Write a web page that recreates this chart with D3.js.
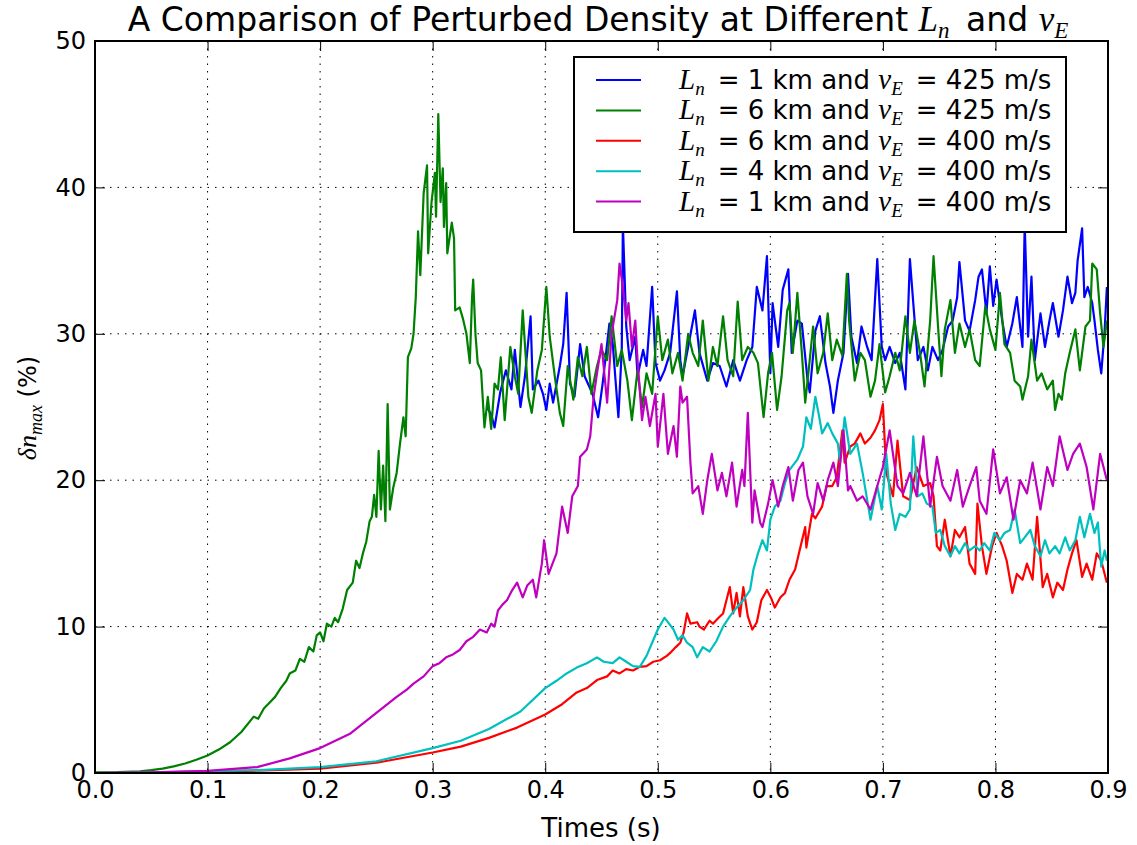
<!DOCTYPE html>
<html><head><meta charset="utf-8">
<script src="https://cdn.jsdelivr.net/npm/d3@7"></script>
<style>
html,body{margin:0;padding:0;background:#fff;}
svg{display:block;}
.tick text{font-family:"DejaVu Sans",sans-serif;font-size:24px;fill:#000;}
</style></head>
<body>
<svg id="chart" width="1137" height="845"></svg>
<script>
// ---------------- data (time in s, perturbed density in %) ----------------
const xTicks = [0.0,0.1,0.2,0.3,0.4,0.5,0.6,0.7,0.8,0.9];
const yTicks = [0,10,20,30,40,50];
const seriesNames = [
  {n:"1", v:"425"},
  {n:"6", v:"425"},
  {n:"6", v:"400"},
  {n:"4", v:"400"},
  {n:"1", v:"400"}
];
const seriesColors = ["#0000ff","#008000","#ff0000","#00bfbf","#bf00bf"];

const blue = [[0.348,25.0],[0.352,24.5],[0.355,23.6],[0.36,26.0],[0.365,27.5],[0.37,26.2],[0.373,28.9],[0.378,25.0],[0.382,27.1],[0.387,31.2],[0.389,26.2],[0.394,26.8],[0.398,25.9],[0.401,24.8],[0.404,26.6],[0.407,25.3],[0.413,27.8],[0.416,29.3],[0.419,32.8],[0.422,26.6],[0.426,25.7],[0.431,29.3],[0.435,27.1],[0.442,25.9],[0.447,24.3],[0.451,26.6],[0.457,30.7],[0.46,29.3],[0.465,24.3],[0.468,28.9],[0.469,37.5],[0.472,30.5],[0.475,28.2],[0.48,29.8],[0.482,27.1],[0.487,28.9],[0.49,27.8],[0.495,33.2],[0.498,28.0],[0.502,26.8],[0.506,27.5],[0.511,28.7],[0.517,32.9],[0.52,28.2],[0.522,27.1],[0.527,29.1],[0.533,31.6],[0.537,28.7],[0.544,26.8],[0.549,28.0],[0.555,27.8],[0.561,26.4],[0.567,28.2],[0.573,26.8],[0.579,28.2],[0.584,29.1],[0.588,33.2],[0.593,31.6],[0.597,35.3],[0.6,27.3],[0.602,32.1],[0.607,29.1],[0.611,33.0],[0.616,34.4],[0.619,28.7],[0.624,30.9],[0.628,30.7],[0.633,26.9],[0.635,26.0],[0.64,30.2],[0.644,31.2],[0.649,28.0],[0.653,26.4],[0.656,24.6],[0.66,26.8],[0.665,28.7],[0.669,34.1],[0.672,29.8],[0.677,28.0],[0.681,30.5],[0.686,29.1],[0.69,28.2],[0.695,35.1],[0.699,29.1],[0.702,28.2],[0.706,29.1],[0.711,28.0],[0.715,28.7],[0.72,26.2],[0.724,35.1],[0.727,32.1],[0.731,28.2],[0.736,29.1],[0.74,27.5],[0.744,29.1],[0.749,28.2],[0.753,28.9],[0.758,30.5],[0.762,30.9],[0.766,32.5],[0.768,34.9],[0.773,30.9],[0.777,30.2],[0.782,32.3],[0.785,33.9],[0.788,34.4],[0.792,31.4],[0.795,34.6],[0.798,31.9],[0.801,33.7],[0.806,30.9],[0.81,29.1],[0.815,30.7],[0.819,32.5],[0.824,29.1],[0.826,37.5],[0.829,29.8],[0.832,33.9],[0.835,28.2],[0.84,31.4],[0.844,29.1],[0.848,30.9],[0.851,32.1],[0.856,29.8],[0.86,31.6],[0.864,33.9],[0.868,32.1],[0.871,32.8],[0.873,35.0],[0.877,37.2],[0.879,32.5],[0.882,33.2],[0.886,32.1],[0.888,30.9],[0.891,28.9],[0.894,27.3],[0.897,30.2],[0.899,33.2]];

const green = [[0,0.05],[0.02,0.06],[0.04,0.12],[0.05,0.2],[0.06,0.3],[0.07,0.45],[0.08,0.65],[0.09,0.9],[0.1,1.2],[0.11,1.6],[0.12,2.1],[0.13,2.8],[0.141,3.85],[0.145,3.7],[0.15,4.4],[0.155,4.8],[0.16,5.2],[0.165,5.8],[0.17,6.3],[0.173,6.8],[0.178,7.0],[0.182,7.8],[0.186,7.6],[0.19,8.6],[0.194,8.3],[0.197,9.4],[0.2,9.6],[0.203,9.0],[0.206,10.2],[0.21,10.0],[0.213,10.6],[0.216,10.3],[0.22,11.2],[0.224,12.5],[0.229,13.0],[0.232,14.5],[0.235,14.0],[0.238,15.0],[0.241,15.8],[0.244,17.2],[0.246,17.5],[0.248,19.0],[0.25,17.5],[0.252,22.0],[0.254,18.0],[0.256,21.0],[0.258,17.2],[0.26,25.2],[0.262,18.0],[0.265,19.5],[0.268,20.5],[0.271,22.5],[0.274,24.3],[0.276,23.0],[0.278,28.4],[0.281,29.0],[0.283,30.0],[0.285,32.5],[0.287,37.0],[0.289,34.0],[0.292,39.6],[0.295,41.5],[0.296,35.5],[0.299,39.0],[0.302,41.0],[0.303,38.0],[0.305,45.0],[0.307,39.0],[0.309,41.3],[0.31,37.3],[0.312,40.3],[0.313,35.5],[0.317,37.6],[0.319,36.5],[0.32,31.6],[0.324,31.8],[0.327,31.0],[0.33,30.0],[0.333,28.0],[0.335,32.5],[0.336,33.7],[0.338,30.0],[0.34,28.0],[0.343,27.5],[0.346,23.6],[0.349,25.7],[0.352,23.5],[0.355,26.6],[0.358,26.2],[0.3605,28.4],[0.364,24.1],[0.369,29.1],[0.373,27.1],[0.376,25.9],[0.38,31.6],[0.385,25.7],[0.388,24.6],[0.393,27.5],[0.397,28.9],[0.401,33.2],[0.404,29.8],[0.409,26.8],[0.413,24.6],[0.416,23.7],[0.42,27.8],[0.425,25.5],[0.429,28.4],[0.433,27.1],[0.437,29.1],[0.441,25.9],[0.446,27.8],[0.45,28.9],[0.455,28.2],[0.459,31.2],[0.464,27.8],[0.468,28.9],[0.473,26.8],[0.477,24.1],[0.482,27.5],[0.486,25.0],[0.49,27.3],[0.495,25.9],[0.5,31.2],[0.504,28.2],[0.509,29.6],[0.513,27.3],[0.518,28.7],[0.522,26.8],[0.527,30.0],[0.531,28.7],[0.536,27.8],[0.54,30.9],[0.545,26.8],[0.549,29.1],[0.553,27.8],[0.558,31.2],[0.562,28.2],[0.567,27.1],[0.571,32.2],[0.575,28.2],[0.58,29.1],[0.585,28.7],[0.589,28.0],[0.594,24.3],[0.598,27.3],[0.6015,28.7],[0.606,24.8],[0.61,27.1],[0.615,31.6],[0.617,32.1],[0.62,28.7],[0.624,32.8],[0.628,28.7],[0.631,25.3],[0.635,28.2],[0.638,30.5],[0.642,27.3],[0.647,28.7],[0.651,31.4],[0.655,28.2],[0.659,29.6],[0.664,28.5],[0.668,34.1],[0.67,30.9],[0.675,26.8],[0.68,28.7],[0.684,28.2],[0.689,25.7],[0.693,26.8],[0.697,29.3],[0.702,26.0],[0.706,27.1],[0.711,28.7],[0.715,27.5],[0.72,31.2],[0.724,28.7],[0.728,30.9],[0.733,28.7],[0.737,26.4],[0.742,30.9],[0.745,35.3],[0.749,30.5],[0.752,27.1],[0.755,30.3],[0.76,32.3],[0.764,28.7],[0.768,30.7],[0.773,29.1],[0.777,30.3],[0.782,28.2],[0.786,27.8],[0.791,31.9],[0.795,30.3],[0.8,28.9],[0.804,32.8],[0.808,29.3],[0.813,28.7],[0.817,26.8],[0.822,26.4],[0.824,25.5],[0.829,27.1],[0.832,29.6],[0.837,26.8],[0.841,27.3],[0.846,26.2],[0.851,26.8],[0.853,24.8],[0.856,25.9],[0.859,25.5],[0.862,27.3],[0.866,28.7],[0.871,30.3],[0.875,27.5],[0.88,30.5],[0.884,30.9],[0.886,34.8],[0.89,34.4],[0.893,31.4],[0.896,29.1],[0.899,30.9]];

const red = [[0,0],[0.05,0.03],[0.1,0.1],[0.15,0.18],[0.2,0.3],[0.25,0.7],[0.3,1.4],[0.325,1.8],[0.35,2.4],[0.375,3.1],[0.4,4.0],[0.415,4.7],[0.428,5.5],[0.437,5.8],[0.446,6.35],[0.455,6.6],[0.46,7.0],[0.466,6.8],[0.472,7.1],[0.478,7.0],[0.484,7.25],[0.49,7.3],[0.496,7.6],[0.502,7.7],[0.508,8.0],[0.511,8.2],[0.516,8.6],[0.52,8.9],[0.523,9.6],[0.526,10.9],[0.529,10.2],[0.535,10.3],[0.537,10.0],[0.541,9.8],[0.546,10.4],[0.549,10.2],[0.554,10.6],[0.558,10.9],[0.564,12.7],[0.567,10.9],[0.57,12.3],[0.573,10.7],[0.576,12.7],[0.58,10.7],[0.584,9.8],[0.588,10.3],[0.592,11.8],[0.597,12.5],[0.601,11.9],[0.604,11.3],[0.609,12.0],[0.613,12.3],[0.617,13.2],[0.622,13.9],[0.626,15.2],[0.631,16.8],[0.632,15.4],[0.637,17.7],[0.64,17.4],[0.646,18.2],[0.65,19.6],[0.655,19.6],[0.659,20.2],[0.664,23.4],[0.666,21.2],[0.671,22.3],[0.675,22.5],[0.68,23.2],[0.684,22.5],[0.689,22.9],[0.693,23.4],[0.697,24.1],[0.7,25.2],[0.703,20.5],[0.709,18.9],[0.713,22.7],[0.718,18.9],[0.724,18.65],[0.73,20.9],[0.736,19.6],[0.742,19.8],[0.745,18.9],[0.748,15.5],[0.751,15.2],[0.755,17.3],[0.76,14.8],[0.764,16.6],[0.768,16.1],[0.773,16.8],[0.777,14.3],[0.782,13.6],[0.784,18.4],[0.788,15.5],[0.792,13.6],[0.797,15.5],[0.801,16.4],[0.806,15.5],[0.81,14.5],[0.815,12.3],[0.819,13.6],[0.824,13.2],[0.828,14.3],[0.833,13.2],[0.837,17.5],[0.842,12.7],[0.846,13.6],[0.851,12.0],[0.855,13.0],[0.86,12.5],[0.864,13.9],[0.868,15.0],[0.872,15.9],[0.877,13.4],[0.881,14.3],[0.886,13.2],[0.89,15.0],[0.894,14.5],[0.899,13.0]];

const cyan = [[0,0],[0.05,0.04],[0.1,0.12],[0.15,0.22],[0.2,0.4],[0.25,0.8],[0.3,1.7],[0.325,2.2],[0.35,3.0],[0.378,4.2],[0.4,5.8],[0.41,6.3],[0.419,6.8],[0.428,7.2],[0.437,7.5],[0.446,7.9],[0.452,7.6],[0.46,7.5],[0.466,7.9],[0.472,7.6],[0.478,7.3],[0.484,7.25],[0.49,8.0],[0.495,8.9],[0.5,9.8],[0.506,10.6],[0.51,10.2],[0.514,9.8],[0.518,9.1],[0.522,9.4],[0.526,8.9],[0.531,8.6],[0.535,7.9],[0.54,8.6],[0.546,8.3],[0.552,9.0],[0.558,10.0],[0.564,10.7],[0.57,11.3],[0.576,11.8],[0.582,12.5],[0.585,13.9],[0.589,15.0],[0.593,15.9],[0.597,15.2],[0.6,17.3],[0.604,18.2],[0.609,18.6],[0.613,19.8],[0.617,20.7],[0.624,21.4],[0.629,22.3],[0.632,24.3],[0.636,23.5],[0.64,25.7],[0.643,24.5],[0.646,23.2],[0.651,23.9],[0.655,23.2],[0.66,22.5],[0.662,21.2],[0.666,24.3],[0.671,21.8],[0.677,22.5],[0.682,20.5],[0.689,17.3],[0.695,19.6],[0.699,18.0],[0.703,21.8],[0.707,18.4],[0.711,16.6],[0.715,17.7],[0.72,17.5],[0.724,18.0],[0.727,23.0],[0.731,18.9],[0.735,19.1],[0.739,18.4],[0.744,18.2],[0.747,16.4],[0.751,16.6],[0.755,15.5],[0.76,14.8],[0.764,15.5],[0.768,15.0],[0.773,15.7],[0.777,15.2],[0.782,15.5],[0.786,15.2],[0.79,15.7],[0.795,15.2],[0.799,16.4],[0.804,15.9],[0.808,16.4],[0.813,16.6],[0.817,18.0],[0.822,15.7],[0.826,16.1],[0.831,16.6],[0.835,15.5],[0.84,14.8],[0.844,15.9],[0.848,15.0],[0.853,15.5],[0.857,15.0],[0.862,16.1],[0.866,15.2],[0.871,15.9],[0.875,17.5],[0.879,16.1],[0.884,17.7],[0.888,16.4],[0.891,17.1],[0.894,14.1],[0.897,15.2],[0.899,14.5]];

const magenta = [[0,0],[0.05,0.05],[0.1,0.15],[0.144,0.4],[0.173,1.0],[0.2,1.7],[0.227,2.7],[0.25,4.1],[0.268,5.2],[0.277,5.7],[0.283,6.1],[0.292,6.6],[0.3,7.3],[0.306,7.5],[0.312,7.9],[0.318,8.1],[0.324,8.4],[0.33,9.0],[0.336,9.3],[0.342,9.8],[0.348,9.6],[0.352,10.2],[0.355,10.0],[0.358,11.1],[0.362,11.5],[0.366,11.8],[0.37,12.4],[0.375,13.0],[0.38,12.0],[0.384,12.8],[0.389,13.2],[0.392,12.0],[0.395,13.4],[0.397,14.3],[0.399,15.9],[0.403,13.6],[0.41,15.0],[0.415,18.2],[0.42,16.4],[0.424,18.9],[0.429,19.6],[0.431,21.6],[0.437,22.1],[0.44,23.0],[0.443,25.7],[0.446,27.3],[0.45,29.3],[0.455,25.3],[0.459,30.0],[0.464,32.3],[0.466,34.8],[0.469,33.2],[0.472,30.9],[0.474,32.1],[0.477,29.1],[0.48,30.9],[0.482,28.2],[0.486,24.1],[0.489,25.7],[0.493,23.7],[0.498,25.9],[0.5,22.3],[0.505,25.9],[0.509,21.8],[0.514,23.7],[0.517,21.6],[0.52,26.4],[0.522,25.3],[0.526,25.7],[0.529,21.2],[0.531,19.1],[0.536,19.6],[0.54,17.7],[0.544,20.0],[0.548,21.8],[0.553,19.3],[0.557,20.5],[0.561,18.9],[0.566,21.2],[0.57,18.2],[0.575,20.7],[0.577,19.6],[0.58,24.6],[0.584,17.1],[0.586,19.3],[0.591,17.1],[0.593,16.8],[0.598,18.4],[0.602,20.0],[0.607,18.2],[0.611,19.6],[0.616,20.9],[0.62,18.6],[0.625,20.7],[0.629,21.2],[0.633,18.9],[0.638,17.7],[0.642,19.8],[0.647,18.6],[0.651,20.0],[0.656,21.2],[0.66,19.6],[0.665,23.4],[0.669,19.3],[0.671,19.6],[0.677,18.6],[0.682,18.9],[0.689,18.0],[0.695,19.6],[0.7,20.9],[0.706,23.4],[0.713,19.6],[0.718,19.1],[0.724,20.5],[0.73,18.9],[0.736,23.0],[0.742,18.2],[0.748,21.6],[0.753,19.6],[0.76,18.6],[0.766,20.7],[0.771,18.2],[0.777,19.6],[0.783,20.9],[0.786,18.6],[0.792,17.7],[0.798,22.1],[0.804,19.1],[0.81,20.2],[0.816,17.3],[0.822,20.0],[0.828,19.1],[0.833,21.2],[0.84,18.0],[0.846,20.9],[0.851,19.6],[0.857,23.0],[0.864,20.7],[0.869,21.8],[0.875,22.5],[0.881,20.9],[0.887,18.0],[0.893,21.8],[0.899,20.0]];

const seriesData = [blue, green, red, cyan, magenta];

// ---------------- drawing ----------------
const svg = d3.select("#chart");
const L = 95, R = 1108, T = 41, B = 773;
const x = d3.scaleLinear().domain([0, 0.9]).range([L, R]);
const y = d3.scaleLinear().domain([0, 50]).range([B, T]);

// grid
const grid = svg.append("g");
grid.selectAll("line.vx").data(xTicks.slice(1, -1)).join("line")
  .attr("x1", d => x(d)).attr("x2", d => x(d)).attr("y1", T).attr("y2", B)
  .attr("stroke", "#000").attr("stroke-width", 1).attr("stroke-dasharray", "1.5,6");
grid.selectAll("line.hy").data(yTicks.slice(1, -1)).join("line")
  .attr("y1", d => y(d)).attr("y2", d => y(d)).attr("x1", L).attr("x2", R)
  .attr("stroke", "#000").attr("stroke-width", 1).attr("stroke-dasharray", "1.5,6");

// clip
svg.append("clipPath").attr("id", "clip").append("rect")
  .attr("x", L).attr("y", T).attr("width", R - L).attr("height", B - T);

const line = d3.line().x(d => x(d[0])).y(d => y(d[1]));
const lines = svg.append("g").attr("clip-path", "url(#clip)");
seriesData.forEach((s, i) => {
  lines.append("path").datum(s).attr("d", line)
    .attr("fill", "none").attr("stroke", seriesColors[i])
    .attr("stroke-width", 2.2).attr("stroke-linejoin", "round");
});

// axes (inward ticks)
const fmtX = d3.format(".1f");
svg.append("g").attr("transform", `translate(0,${B})`)
  .call(d3.axisBottom(x).tickValues(xTicks).tickFormat(fmtX).tickSize(-10).tickPadding(8))
  .call(g => g.select(".domain").remove());
svg.append("g").attr("transform", `translate(0,${T})`)
  .call(d3.axisTop(x).tickValues(xTicks).tickFormat("").tickSize(-10))
  .call(g => g.select(".domain").remove());
svg.append("g").attr("transform", `translate(${L},0)`)
  .call(d3.axisLeft(y).tickValues(yTicks).tickFormat(d3.format("d")).tickSize(-10).tickPadding(9))
  .call(g => g.select(".domain").remove());
svg.append("g").attr("transform", `translate(${R},0)`)
  .call(d3.axisRight(y).tickValues(yTicks).tickFormat("").tickSize(-10))
  .call(g => g.select(".domain").remove());
svg.selectAll(".tick line").attr("stroke", "#000").attr("stroke-width", 1);

// frame
svg.append("rect").attr("x", L).attr("y", T).attr("width", R - L).attr("height", B - T)
  .attr("fill", "none").attr("stroke", "#000").attr("stroke-width", 2);

// title
const title = svg.append("text").attr("x", 598).attr("y", 31)
  .attr("text-anchor", "middle").attr("font-family", "DejaVu Sans").attr("font-size", 33);
title.append("tspan").text("A Comparison of Perturbed Density at Different ");
title.append("tspan").attr("font-family", "Liberation Serif").attr("font-style", "italic").attr("font-size", 35).text("L");
title.append("tspan").attr("font-family", "Liberation Serif").attr("font-style", "italic").attr("font-size", 23).attr("dy", 7).text("n");
title.append("tspan").attr("dy", -7).text("\u2002and ");
title.append("tspan").attr("font-family", "Liberation Serif").attr("font-style", "italic").attr("font-size", 35).text("v");
title.append("tspan").attr("font-family", "Liberation Serif").attr("font-style", "italic").attr("font-size", 23).attr("dy", 7).text("E");

// axis labels
svg.append("text").attr("x", 601).attr("y", 837).attr("text-anchor", "middle")
  .attr("font-family", "DejaVu Sans").attr("font-size", 26).text("Times (s)");
const yl = svg.append("text").attr("transform", "translate(36,408) rotate(-90)")
  .attr("text-anchor", "middle").attr("font-family", "DejaVu Sans").attr("font-size", 24);
yl.append("tspan").attr("font-family", "Liberation Serif").attr("font-style", "italic").attr("font-size", 26).text("\u03b4n");
yl.append("tspan").attr("font-family", "Liberation Serif").attr("font-style", "italic").attr("font-size", 18).attr("dy", 6).text("max");
yl.append("tspan").attr("dy", -6).text(" (%)");

// legend
const lg = svg.append("g");
lg.append("rect").attr("x", 574).attr("y", 57).attr("width", 492).attr("height", 175)
  .attr("fill", "#fff").attr("stroke", "#000").attr("stroke-width", 2);
seriesNames.forEach((s, i) => {
  const yy = 80 + i * 30.4;
  lg.append("line").attr("x1", 596).attr("x2", 641).attr("y1", yy).attr("y2", yy)
    .attr("stroke", seriesColors[i]).attr("stroke-width", 2);
  const t = lg.append("text").attr("x", 679).attr("y", yy + 9)
    .attr("font-family", "DejaVu Sans").attr("font-size", 26);
  t.append("tspan").attr("font-family", "Liberation Serif").attr("font-style", "italic").attr("font-size", 29).text("L");
  t.append("tspan").attr("font-family", "Liberation Serif").attr("font-style", "italic").attr("font-size", 19).attr("dy", 6).text("n");
  t.append("tspan").attr("dy", -6).text(`\u2002= ${s.n} km and `);
  t.append("tspan").attr("font-family", "Liberation Serif").attr("font-style", "italic").attr("font-size", 29).text("v");
  t.append("tspan").attr("font-family", "Liberation Serif").attr("font-style", "italic").attr("font-size", 19).attr("dy", 6).text("E");
  t.append("tspan").attr("dy", -6).text(`\u2002= ${s.v} m/s`);
});
</script>
</body></html>
